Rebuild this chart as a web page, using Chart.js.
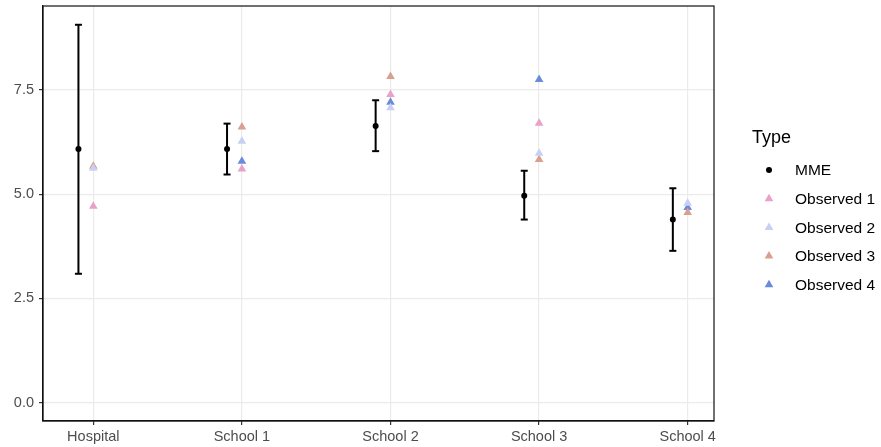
<!DOCTYPE html>
<html>
<head>
<meta charset="utf-8">
<script src="https://cdn.jsdelivr.net/npm/chart.js@4"></script>
<style>
  html, body { margin: 0; padding: 0; background: #fff; }
  #wrap { width: 881px; height: 447px; }
</style>
</head>
<body>
<div id="wrap"><canvas id="mmeChart" width="881" height="447"></canvas></div>
<script>
const categories = ['Hospital', 'School 1', 'School 2', 'School 3', 'School 4'];
const yTicks = [0, 2.5, 5, 7.5];

const mme = [6.08, 6.08, 6.63, 4.96, 4.39];
const mmeLow = [3.09, 5.47, 6.03, 4.39, 3.64];
const mmeHigh = [9.06, 6.69, 7.25, 5.56, 5.14];

const observed1 = [4.71, 5.60, 7.39, 6.70, null];
const observed2 = [5.62, 6.27, 7.07, 5.98, 4.78];
const observed3 = [5.67, 6.61, 7.82, 5.83, 4.56];
const observed4 = [null, 5.79, 7.20, 7.75, 4.68];

const obsColors = ['#e9a1c9', '#c8cff5', '#d9a08f', '#6a8bd9'];
const obsLabels = ['Observed 1', 'Observed 2', 'Observed 3', 'Observed 4'];
const mmeOffset = -0.1;

const font = '"Liberation Sans", Arial, sans-serif';

const toPoints = (arr, dx) => arr.map((v, i) => ({x: i + dx, y: v}));

// error bars as broken line segments, caps drawn with the 'line' point style
const errorBarData = [];
categories.forEach((c, i) => {
    errorBarData.push({x: i + mmeOffset, y: mmeLow[i]});
    errorBarData.push({x: i + mmeOffset, y: mmeHigh[i]});
    errorBarData.push({x: i + mmeOffset, y: null});
});

const obsSeries = [observed1, observed2, observed3, observed4];

const datasets = [
    {
        label: 'MME',
        data: toPoints(mme, mmeOffset),
        pointStyle: 'circle',
        pointRadius: 3,
        backgroundColor: '#000',
        borderColor: '#000',
        borderWidth: 0
    },
    {
        label: 'errbar',
        data: errorBarData,
        showLine: true,
        spanGaps: false,
        borderColor: '#000',
        borderWidth: 2,
        pointStyle: 'line',
        pointRadius: 3.5,
        pointBorderWidth: 2,
        pointBorderColor: '#000'
    }
];
obsSeries.forEach((s, k) => {
    datasets.push({
        label: obsLabels[k],
        data: toPoints(s, 0),
        pointStyle: 'triangle',
        pointRadius: 5,
        backgroundColor: obsColors[k],
        borderColor: obsColors[k],
        borderWidth: 0
    });
});

const legendPlugin = {
    id: 'ggLegend',
    afterDraw(chart) {
        const ctx = chart.ctx;
        const area = chart.chartArea;
        ctx.save();
        // panel border
        ctx.strokeStyle = '#111';
        ctx.lineWidth = 1.2;
        ctx.strokeRect(area.left, area.top, area.right - area.left, area.bottom - area.top);

        ctx.fillStyle = '#000';
        ctx.textBaseline = 'middle';
        ctx.textAlign = 'left';
        ctx.font = '18px ' + font;
        ctx.fillText('Type', 752, 138);

        const items = [{label: 'MME', color: '#000', style: 'circle', r: 3}]
            .concat(obsLabels.map((l, k) => ({label: l, color: obsColors[k], style: 'triangle', r: 5})));
        items.forEach((it, i) => {
            const y = 170 + i * 28.7;
            ctx.fillStyle = it.color;
            Chart.helpers.drawPoint(ctx, {pointStyle: it.style, radius: it.r, rotation: 0, borderWidth: 0}, 769, y);
            ctx.fillStyle = '#000';
            ctx.font = '15.5px ' + font;
            ctx.fillText(it.label, 795, y + 1);
        });
        ctx.restore();
    }
};

const chart = new Chart(document.getElementById('mmeChart'), {
    type: 'scatter',
    data: {datasets: datasets},
    plugins: [legendPlugin],
    options: {
        responsive: false,
        animation: false,
        layout: {padding: {left: 0, top: 5, right: 167, bottom: 0}},
        plugins: {
            legend: {display: false},
            tooltip: {enabled: false}
        },
        scales: {
            x: {
                type: 'linear',
                min: -0.3385,
                max: 4.177,
                afterBuildTicks: (s) => { s.ticks = categories.map((c, i) => ({value: i})); },
                afterFit: (s) => { s.height = 26; s.paddingLeft = 0; s.paddingRight = 0; },
                grid: {color: '#ebebeb', lineWidth: 1.2, tickColor: '#333', tickLength: 4, tickWidth: 1.2},
                border: {display: true, color: '#111', width: 1.2},
                ticks: {
                    padding: 3,
                    color: '#4d4d4d',
                    font: {family: font, size: 14.5},
                    maxRotation: 0,
                    callback: (v) => categories[v]
                }
            },
            y: {
                min: -0.44,
                max: 9.51,
                afterBuildTicks: (s) => { s.ticks = yTicks.map(v => ({value: v})); },
                afterFit: (s) => { s.width = 43; s.paddingTop = 0; s.paddingBottom = 0; },
                grid: {color: '#ebebeb', lineWidth: 1.2, tickColor: '#333', tickLength: 4, tickWidth: 1.2},
                border: {display: true, color: '#111', width: 1.2},
                ticks: {
                    padding: 5,
                    color: '#4d4d4d',
                    font: {family: font, size: 14.5},
                    callback: (v) => v.toFixed(1)
                }
            }
        }
    }
});
</script>
</body>
</html>
